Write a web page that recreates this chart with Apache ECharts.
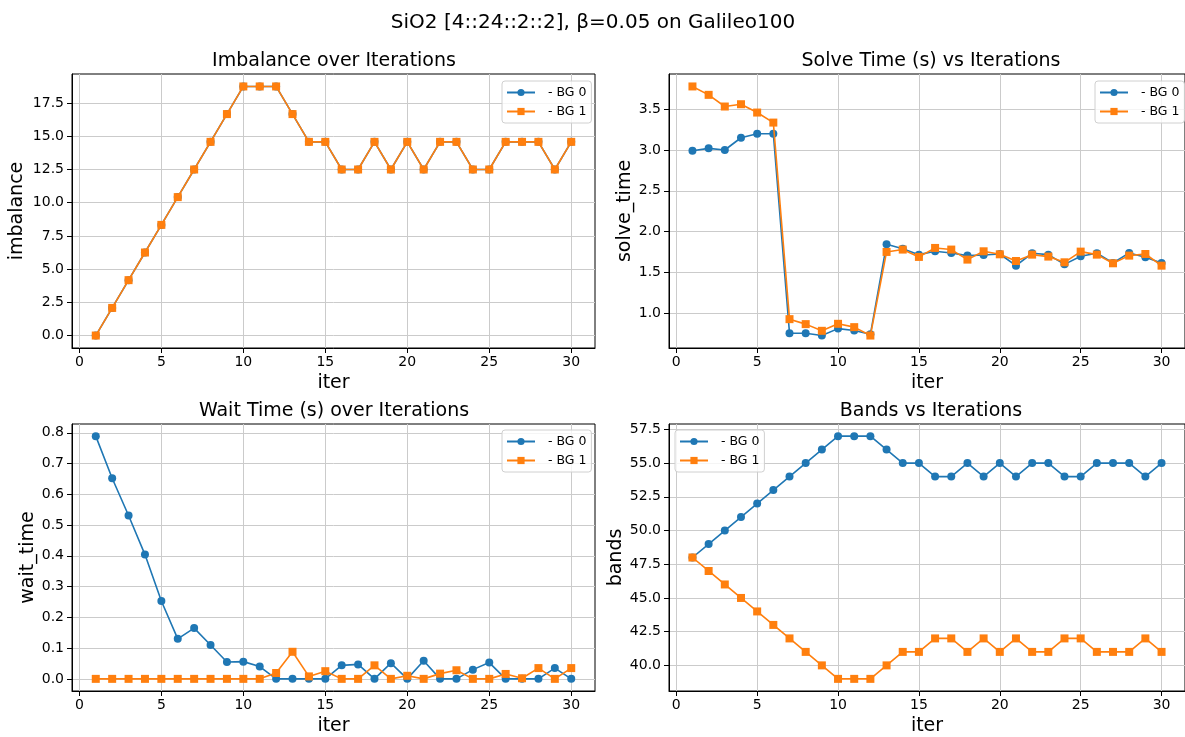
<!DOCTYPE html>
<html><head><meta charset="utf-8">
<script src="https://cdn.jsdelivr.net/npm/echarts@6/dist/echarts.min.js"></script>
<style>html,body{margin:0;padding:0;background:#fff}#c{width:1185px;height:737px}</style>
</head><body><div id="c"></div>
<script>
const iters = [1,2,3,4,5,6,7,8,9,10,11,12,13,14,15,16,17,18,19,20,21,22,23,24,25,26,27,28,29,30];
const seriesNames = ['BG 0', 'BG 1'];
const imbalanceBG0 = [0,2.08,4.17,6.25,8.33,10.42,12.5,14.58,16.67,18.75,18.75,18.75,16.67,14.58,14.58,12.5,12.5,14.58,12.5,14.58,12.5,14.58,14.58,12.5,12.5,14.58,14.58,14.58,12.5,14.58];
const imbalanceBG1 = [0,2.08,4.17,6.25,8.33,10.42,12.5,14.58,16.67,18.75,18.75,18.75,16.67,14.58,14.58,12.5,12.5,14.58,12.5,14.58,12.5,14.58,14.58,12.5,12.5,14.58,14.58,14.58,12.5,14.58];
const solveBG0 = [2.99,3.02,3.00,3.15,3.20,3.20,0.754,0.754,0.725,0.81,0.787,0.74,1.844,1.79,1.717,1.758,1.738,1.705,1.713,1.725,1.582,1.734,1.717,1.598,1.697,1.734,1.615,1.738,1.684,1.615];
const solveBG1 = [3.779,3.676,3.533,3.561,3.459,3.336,0.926,0.865,0.783,0.869,0.828,0.725,1.75,1.779,1.689,1.799,1.779,1.656,1.758,1.721,1.639,1.717,1.693,1.623,1.754,1.717,1.611,1.705,1.725,1.582];
const waitBG0 = [0.789,0.652,0.531,0.404,0.253,0.130,0.165,0.110,0.055,0.056,0.040,0,0,0,0,0.044,0.047,0,0.051,0,0.059,0,0,0.030,0.053,0,0,0,0.035,0];
const waitBG1 = [0,0,0,0,0,0,0,0,0,0,0,0.019,0.088,0.008,0.025,0,0,0.044,0,0.010,0,0.017,0.028,0,0,0.016,0.002,0.035,0,0.035];
const bandsBG0 = [48,49,50,51,52,53,54,55,56,57,57,57,56,55,55,54,54,55,54,55,54,55,55,54,54,55,55,55,54,55];
const bandsBG1 = [48,47,46,45,44,43,42,41,40,39,39,39,40,41,41,42,42,41,42,41,42,41,41,42,42,41,41,41,42,41];
const xTicks = [0,5,10,15,20,25,30];
const imbalanceTicks = [0,2.5,5,7.5,10,12.5,15,17.5];
const solveTicks = [1.0,1.5,2.0,2.5,3.0,3.5];
const waitTicks = [0,0.1,0.2,0.3,0.4,0.5,0.6,0.7,0.8];
const bandsTicks = [40,42.5,45,47.5,50,52.5,55,57.5];

const FONT = 'DejaVu Sans';
const C0 = '#1f77b4', C1 = '#ff7f0e';

function range(arrs) {
  const all = [].concat(...arrs);
  const mn = Math.min(...all), mx = Math.max(...all);
  const m = (mx - mn) * 0.05;
  return [mn - m, mx + m];
}
const xr = range([iters]);

const panels = [
  {title: 'Imbalance over Iterations', yname: 'imbalance', d0: imbalanceBG0, d1: imbalanceBG1, ticks: imbalanceTicks, dec: 1,
   grid: {left: 72, top: 74, width: 523, height: 274}, nameGap: 45, legend: {left: 502, top: 81}},
  {title: 'Solve Time (s) vs Iterations', yname: 'solve_time', d0: solveBG0, d1: solveBG1, ticks: solveTicks, dec: 1,
   grid: {left: 669, top: 74, width: 523, height: 274}, nameGap: 32, legend: {left: 1095, top: 81}},
  {title: 'Wait Time (s) over Iterations', yname: 'wait_time', d0: waitBG0, d1: waitBG1, ticks: waitTicks, dec: 1,
   grid: {left: 72, top: 424, width: 523, height: 273}, nameGap: 32, legend: {left: 502, top: 430}},
  {title: 'Bands vs Iterations', yname: 'bands', d0: bandsBG0, d1: bandsBG1, ticks: bandsTicks, dec: 1,
   grid: {left: 669, top: 424, width: 523, height: 273}, nameGap: 41, legend: {left: 675, top: 430}}
];

const titles = [{text: 'SiO2 [4::24::2::2], β=0.05 on Galileo100', left: 593, top: 13, textAlign: 'center', padding: 0,
  textStyle: {fontFamily: FONT, fontSize: 20, fontWeight: 'normal', color: '#000'}}];
const grids = [], xAxes = [], yAxes = [], series = [], legends = [];

panels.forEach((p, i) => {
  const g = p.grid;
  grids.push(Object.assign({show: true, borderColor: '#000', borderWidth: 1, backgroundColor: '#fff'}, g));
  titles.push({text: p.title, left: g.left + 262, top: g.top - 22, textAlign: 'center', padding: 0,
    textStyle: {fontFamily: FONT, fontSize: 19, fontWeight: 'normal', color: '#000'}});
  const axisCommon = {
    axisLine: {show: true, onZero: false, lineStyle: {color: '#000', width: 1}},
    axisTick: {show: true, inside: false, length: 5, lineStyle: {color: '#000', width: 1}},
    splitLine: {show: true, lineStyle: {color: '#cbcbcb', width: 1}},
    nameTextStyle: {fontFamily: FONT, fontSize: 19, color: '#000'}
  };
  xAxes.push(Object.assign({}, axisCommon, {
    type: 'value', gridIndex: i, min: xr[0], max: xr[1], name: 'iter', nameLocation: 'middle', nameGap: 26,
    axisTick: Object.assign({}, axisCommon.axisTick, {customValues: xTicks}),
    axisLabel: {customValues: xTicks, margin: 7, fontFamily: FONT, fontSize: 14, color: '#000', formatter: v => String(v)}
  }));
  const yr = range([p.d0, p.d1]);
  yAxes.push(Object.assign({}, axisCommon, {
    type: 'value', gridIndex: i, min: yr[0], max: yr[1], name: p.yname, nameLocation: 'middle', nameGap: p.nameGap, nameRotate: 90,
    axisTick: Object.assign({}, axisCommon.axisTick, {customValues: p.ticks}),
    axisLabel: {customValues: p.ticks, margin: 8, fontFamily: FONT, fontSize: 14, color: '#000', formatter: v => v.toFixed(p.dec)}
  }));
  [[p.d0, C0, 'circle'], [p.d1, C1, 'rect']].forEach((s, k) => {
    series.push({
      type: 'line', name: seriesNames[k], xAxisIndex: i, yAxisIndex: i,
      data: iters.map((x, j) => [x, s[0][j]]),
      symbol: s[2], symbolSize: 8, showSymbol: true,
      lineStyle: {color: s[1], width: 1.6}, itemStyle: {color: s[1]},
      animation: false, z: 2 + k
    });
  });
  legends.push({
    show: true, orient: 'vertical', left: p.legend.left, top: p.legend.top,
    data: seriesNames, itemWidth: 28, itemHeight: 9, itemGap: 6, padding: [5, 5, 5, 4],
    borderColor: '#d0d0d0', borderWidth: 1, borderRadius: 3, backgroundColor: 'rgba(255,255,255,0.8)',
    formatter: n => '  - ' + n,
    textStyle: {fontFamily: FONT, fontSize: 12.5, color: '#000'}
  });
});

const chart = echarts.init(document.getElementById('c'), null, {renderer: 'canvas'});
chart.setOption({
  backgroundColor: '#fff', animation: false,
  title: titles, grid: grids, xAxis: xAxes, yAxis: yAxes, series: series, legend: legends
});
</script></body></html>
